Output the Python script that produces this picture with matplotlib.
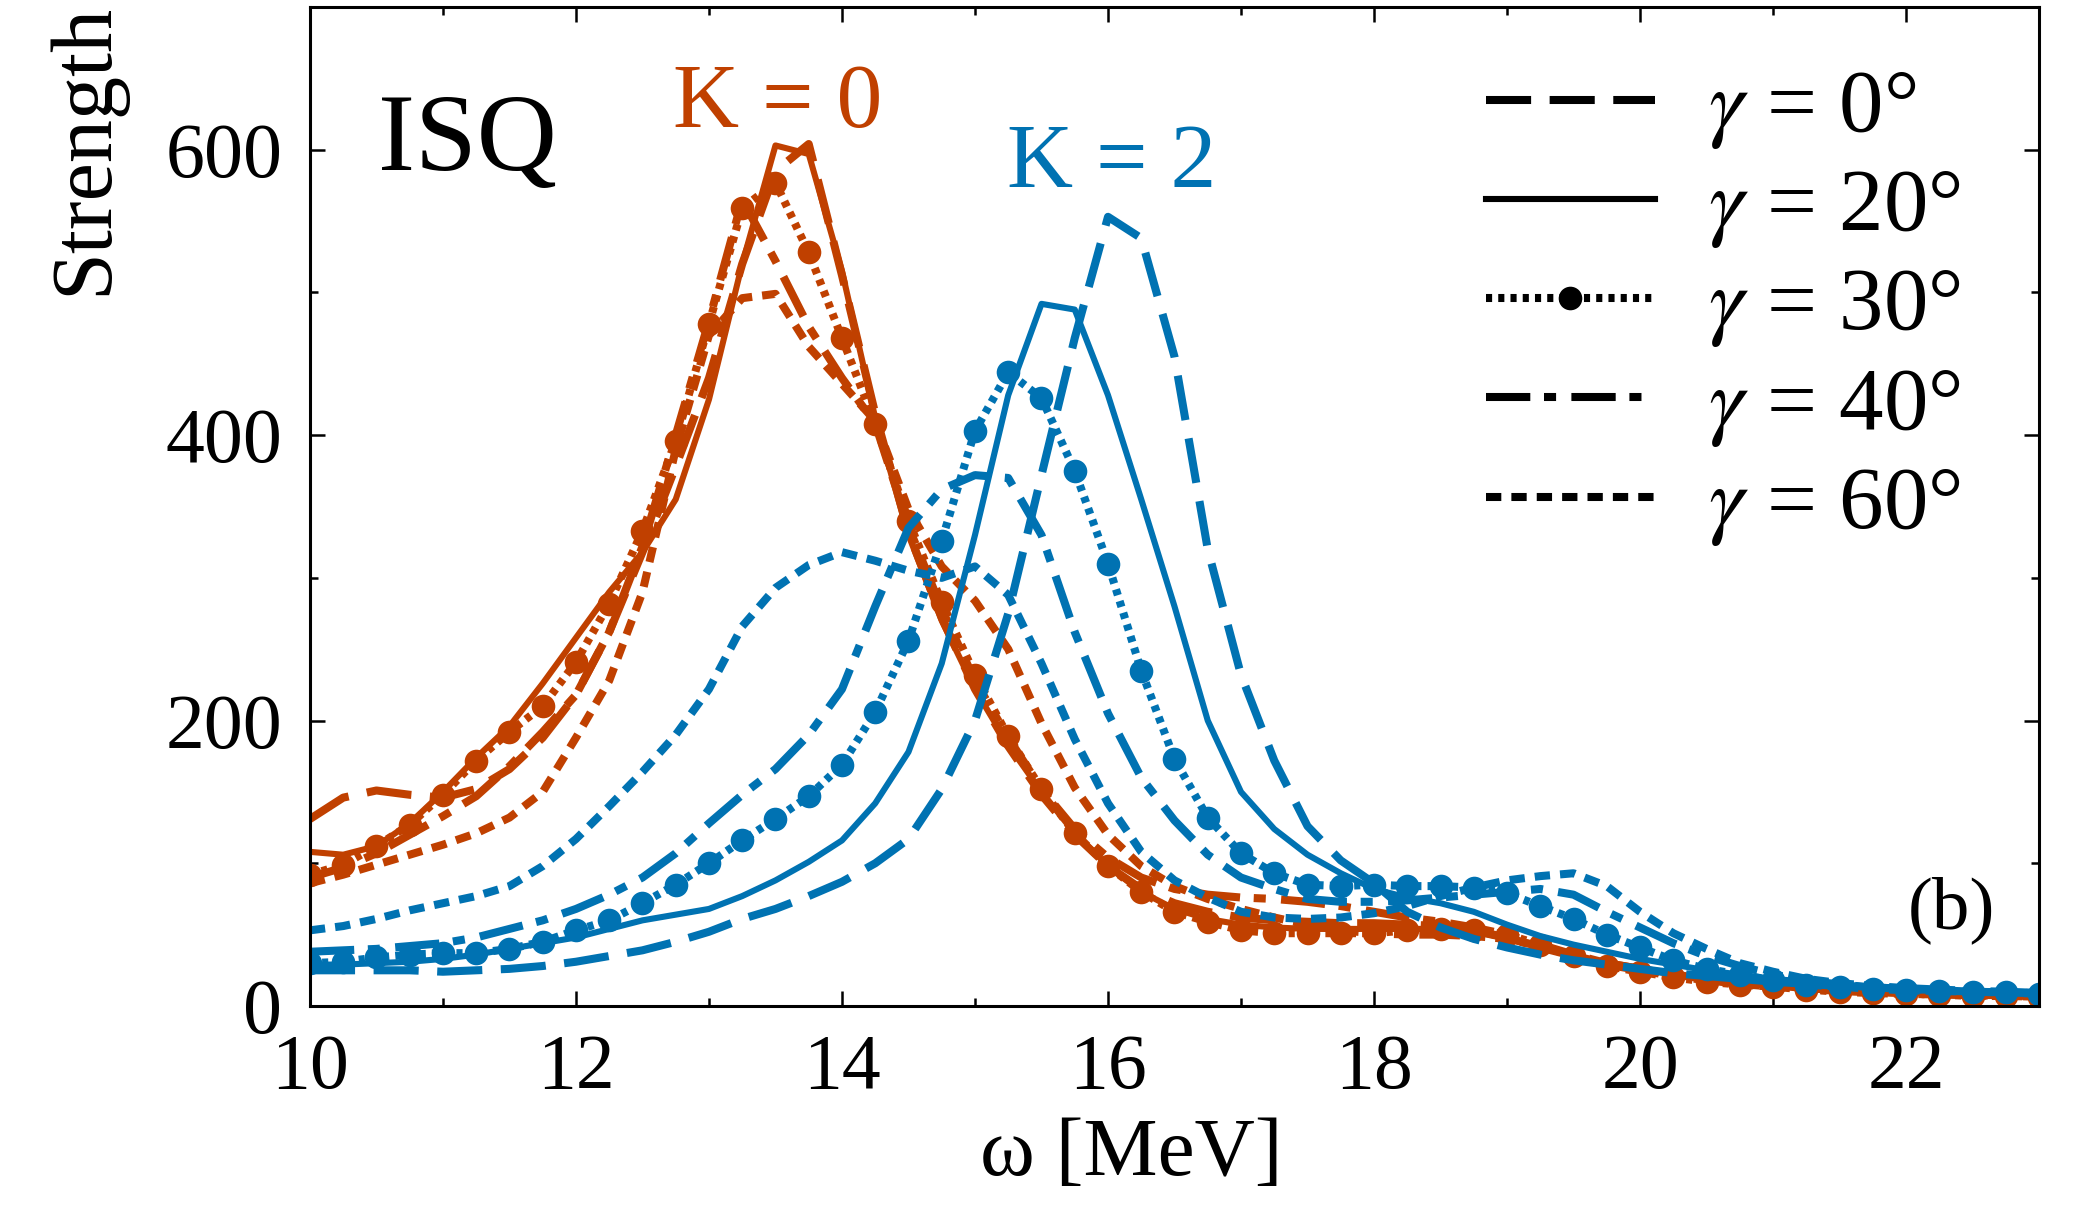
import numpy as np
import matplotlib
matplotlib.use('Agg')
import matplotlib.pyplot as plt
from matplotlib.lines import Line2D
from matplotlib.ticker import MultipleLocator

plt.rcParams['font.family'] = ['Liberation Serif', 'DejaVu Serif']
plt.rcParams['mathtext.fontset'] = 'stix'

# excitation energy grid (MeV), 0.25 MeV steps from 10 to 23
omega = np.arange(10.0, 23.001, 0.25)

gammas = ['0', '20', '30', '40', '60']

# K = 0 strengths
k0_g0 = [131, 146, 151, 148, 146, 152, 166, 188, 218, 262, 318, 378, 440, 520, 585, 604,
         512, 415, 332, 272, 222, 182, 148, 120, 98, 82, 72, 66, 62, 60, 59, 58,
         58, 57, 56, 53, 48, 41, 35, 30, 26, 22, 19, 16.5, 14.5, 12.5, 11, 10,
         9, 8.5, 8, 7.5, 7]
k0_g20 = [108, 106, 112, 128, 150, 174, 196, 226, 258, 290, 318, 355, 425, 520, 603, 597,
          515, 412, 330, 270, 222, 183, 150, 121, 98, 80, 68, 61, 57, 55, 54, 54,
          54, 54, 54, 52, 47, 41, 35, 30, 26, 22, 19, 16.5, 14.5, 12.5, 11, 10,
          9, 8.5, 8, 7.5, 7]
k0_g30 = [92, 99, 112, 127, 148, 172, 192, 210, 241, 282, 333, 396, 478, 559, 577, 528,
          468, 408, 340, 283, 232, 189, 152, 121, 98, 80, 66, 59, 53, 51, 51, 51,
          51, 53, 54, 53, 50, 43, 35, 28, 24, 20, 17, 15, 13.5, 11.5, 10, 9,
          8.5, 8, 7, 7, 6.5]
k0_g40 = [90, 97, 107, 120, 133, 147, 168, 192, 218, 262, 322, 400, 480, 565, 522, 476,
          440, 408, 336, 278, 228, 188, 152, 124, 104, 90, 82, 78, 76, 75, 73, 70,
          66, 62, 59, 55, 50, 43, 36, 30, 26, 22, 19, 16.5, 14.5, 12.5, 11, 10,
          9, 8.5, 8, 7.5, 7]
k0_g60 = [86, 92, 99, 106, 113, 121, 132, 150, 188, 228, 290, 390, 470, 496, 499, 462,
          436, 410, 348, 308, 284, 250, 198, 153, 120, 98, 84, 75, 68, 62, 57, 53,
          51, 50, 50, 49, 47, 42, 35, 29, 25, 21, 18, 15.5, 13.5, 12, 10.5, 9.5,
          8.5, 8, 7.5, 7, 6.5]

# K = 2 strengths
k2_g0 = [25, 25, 25, 25, 24, 25, 26, 28, 31, 35, 39, 45, 52, 61, 68, 77,
         87, 100, 117, 152, 200, 275, 372, 468, 553, 538, 455, 320, 232, 172, 126, 102,
         86, 66, 55, 47, 41, 36, 32, 29, 26, 23, 21, 19, 17, 15.5, 14, 13,
         12, 11, 10, 9.5, 9]
k2_g20 = [29, 29, 30, 31, 33, 36, 40, 44, 48, 54, 60, 64, 68, 77, 88, 101,
          116, 142, 178, 240, 330, 428, 492, 488, 428, 355, 280, 200, 150, 124, 106, 93,
          82, 76, 72, 66, 57, 49, 43, 38, 33, 29, 25, 22, 19, 17, 15, 13.5,
          12, 11, 10, 9.5, 9]
k2_g30 = [30, 31, 34, 36, 37, 37, 40, 45, 53, 60, 72, 85, 100, 116, 131, 147,
          169, 206, 256, 326, 403, 444, 426, 375, 310, 235, 173, 132, 107, 93, 85, 84,
          85, 84, 84, 83, 79, 70, 61, 50, 41, 32, 26, 22, 18, 15, 13.5, 12,
          11, 10.5, 10, 9.5, 8.5]
k2_g40 = [38, 39, 40, 42, 44, 48, 54, 60, 68, 78, 90, 107, 128, 148, 166, 190,
          222, 280, 335, 362, 372, 370, 330, 262, 205, 160, 130, 106, 90, 82, 75, 73,
          73, 74, 76, 78, 80, 82, 78, 66, 55, 44, 35, 28, 22, 18, 15, 13,
          12, 11, 10, 9.5, 9]
k2_g60 = [53, 56, 61, 67, 72, 77, 84, 98, 117, 140, 164, 190, 222, 266, 293, 309,
          318, 312, 305, 300, 308, 288, 240, 187, 142, 108, 88, 76, 66, 62, 61, 62,
          65, 70, 77, 83, 88, 91, 93, 84, 66, 51, 40, 30, 24, 19, 16, 14,
          12.5, 11.5, 10.5, 10, 9]

ORANGE = '#c04000'
BLUE = '#0072b2'
LW = 5.8

styles = {
    '0': dict(linestyle=(0, (5.6, 2.3)), linewidth=LW),
    '20': dict(linestyle='-', linewidth=4.4),
    '30': dict(linestyle=(0, (0.76, 0.76)), linewidth=LW, marker='o', markersize=17,
               markeredgewidth=0),
    '40': dict(linestyle=(0, (5.5, 1.7, 1.5, 1.9)), linewidth=LW),
    '60': dict(linestyle=(0, (1.9, 1.25)), linewidth=LW),
}

fig = plt.figure(figsize=(20.76, 12.11), dpi=100)
ax = fig.add_axes([0.1493, 0.1693, 0.8329, 0.8249])

k0_sets = [k0_g0, k0_g20, k0_g30, k0_g40, k0_g60]
k2_sets = [k2_g0, k2_g20, k2_g30, k2_g40, k2_g60]

for g, vals in zip(gammas, k0_sets):
    ax.plot(omega, vals, color=ORANGE, dash_capstyle='butt', **styles[g])
for g, vals in zip(gammas, k2_sets):
    ax.plot(omega, vals, color=BLUE, dash_capstyle='butt', **styles[g])

ax.set_xlim(10, 23)
ax.set_ylim(0, 700)
ax.xaxis.set_major_locator(MultipleLocator(2))
ax.xaxis.set_minor_locator(MultipleLocator(1))
ax.yaxis.set_major_locator(MultipleLocator(200))
ax.yaxis.set_minor_locator(MultipleLocator(100))
ax.tick_params(which='both', direction='in', top=True, right=True, width=1.8,
               labelsize=56, pad=20)
ax.tick_params(which='major', length=11)
ax.tick_params(which='minor', length=5.5)
for sp in ax.spines.values():
    sp.set_linewidth(2.2)

ax.set_xlabel(u'\u03c9 [MeV]', fontsize=60)
ax.xaxis.set_label_coords(0.475, -0.112)
fig.text(0.041, 0.998, 'Strength', rotation=90, fontsize=62, ha='center', va='top')

ax.text(10.51, 586, 'ISQ', fontsize=80, ha='left', va='baseline')
ax.text(13.52, 616, 'K = 0', color=ORANGE, fontsize=66, ha='center', va='baseline')
ax.text(16.03, 574, 'K = 2', color=BLUE, fontsize=66, ha='center', va='baseline')
ax.text(22.34, 67, '(b)', fontsize=54, ha='center', va='center')

handles = [Line2D([], [], color='black', dash_capstyle='butt', **styles[g]) for g in gammas]
labels = [r'$\gamma$ = %s°' % g for g in gammas]
ax.legend(handles, labels, loc='upper left', bbox_to_anchor=(0.68, 0.938),
          frameon=False, fontsize=64, handlelength=1.9, handletextpad=0.6,
          labelspacing=0.19, borderpad=0, borderaxespad=0, numpoints=1)

fig.savefig('out.png', dpi=100)
